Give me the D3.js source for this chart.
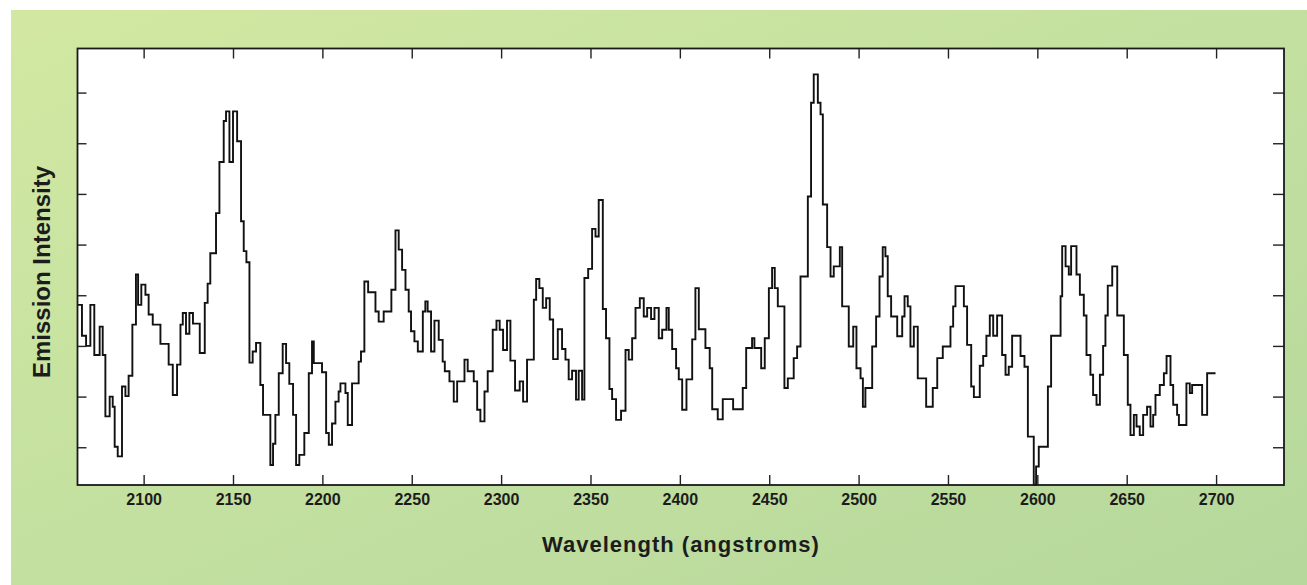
<!DOCTYPE html>
<html>
<head>
<meta charset="utf-8">
<script src="https://cdn.jsdelivr.net/npm/d3@7"></script>
<style>
  body { margin: 0; background: #fff; }
  svg { display: block; }
  text { font-family: "Liberation Sans", Arial, sans-serif; fill: #1c1c1c; }
</style>
</head>
<body>
<svg id="chart" width="1307" height="585"></svg>
<script>
// step start wavelength (angstroms) and level (arbitrary units, 10 per y tick)
let wavelength = [
  2063.1, 2065.5, 2067.8, 2070.2, 2072.4, 2075.4, 2077.1, 2078.6, 2081.0, 2082.7,
  2083.8, 2085.5, 2087.9, 2089.8, 2091.6, 2093.7, 2095.7, 2096.9, 2098.7, 2101.0,
  2102.8, 2105.1, 2109.4, 2114.0, 2116.3, 2118.7, 2120.6, 2121.9, 2123.7, 2125.6,
  2127.6, 2131.4, 2134.2, 2135.8, 2137.3, 2140.5, 2142.4, 2144.8, 2146.1, 2148.0,
  2150.0, 2152.3, 2154.5, 2156.0, 2157.5, 2159.2, 2161.0, 2162.9, 2165.3, 2166.8,
  2170.9, 2172.4, 2173.7, 2175.6, 2177.8, 2179.7, 2181.5, 2183.6, 2185.3, 2187.1,
  2189.9, 2192.4, 2194.2, 2195.2, 2199.8, 2202.1, 2203.6, 2205.4, 2207.3, 2209.1,
  2210.1, 2212.9, 2214.2, 2216.6, 2220.3, 2221.6, 2223.5, 2225.6, 2229.7, 2231.5,
  2234.3, 2238.6, 2240.9, 2242.7, 2244.6, 2246.5, 2248.3, 2249.6, 2251.5, 2253.4,
  2256.2, 2257.6, 2258.9, 2260.8, 2262.7, 2265.1, 2267.3, 2268.5, 2271.1, 2273.5,
  2275.4, 2279.5, 2281.3, 2284.7, 2286.6, 2288.4, 2290.7, 2292.5, 2295.3, 2297.4,
  2299.2, 2301.1, 2303.3, 2305.2, 2307.8, 2310.4, 2312.3, 2314.5, 2318.3, 2319.6,
  2321.4, 2323.3, 2325.2, 2327.2, 2329.1, 2331.7, 2334.1, 2336.0, 2337.8, 2339.7,
  2341.9, 2343.4, 2345.3, 2346.6, 2348.7, 2350.9, 2352.8, 2354.6, 2356.9, 2358.7,
  2360.6, 2362.1, 2364.3, 2367.1, 2369.6, 2371.4, 2373.3, 2375.2, 2377.6, 2379.8,
  2381.7, 2383.9, 2385.8, 2388.2, 2390.1, 2392.5, 2393.8, 2395.7, 2397.9, 2399.4,
  2401.3, 2403.7, 2406.9, 2408.7, 2410.6, 2414.3, 2416.7, 2418.1, 2421.2, 2424.0,
  2429.8, 2435.2, 2437.1, 2440.4, 2441.7, 2445.5, 2447.5, 2449.8, 2451.6, 2453.1,
  2454.8, 2458.5, 2460.4, 2463.7, 2465.6, 2467.5, 2471.6, 2473.4, 2474.9, 2477.2,
  2478.7, 2480.0, 2482.4, 2484.3, 2486.1, 2489.5, 2490.8, 2494.5, 2497.0, 2498.8,
  2501.1, 2502.4, 2503.8, 2507.6, 2509.8, 2511.7, 2513.5, 2515.0, 2516.3, 2518.2,
  2521.6, 2524.4, 2525.7, 2527.5, 2529.0, 2530.9, 2533.1, 2537.8, 2541.5, 2544.0,
  2547.1, 2551.4, 2552.9, 2554.2, 2558.9, 2560.7, 2563.0, 2564.5, 2567.8, 2569.7,
  2571.5, 2573.4, 2575.3, 2577.5, 2580.3, 2582.2, 2584.0, 2585.9, 2590.6, 2592.8,
  2594.7, 2598.0, 2599.3, 2600.8, 2605.9, 2607.7, 2613.0, 2613.9, 2615.8, 2617.6,
  2618.9, 2621.9, 2623.8, 2626.0, 2627.5, 2629.7, 2631.2, 2633.1, 2635.0, 2636.8,
  2638.1, 2639.4, 2641.9, 2644.7, 2648.4, 2650.6, 2652.1, 2654.0, 2655.5, 2657.3,
  2659.2, 2661.4, 2663.3, 2664.8, 2666.1, 2668.5, 2670.8, 2672.3, 2674.5, 2676.0,
  2678.2, 2679.2, 2683.4, 2685.3, 2686.6, 2692.2, 2695.0, 2699.7
];

let intensity = [
  38.1, 32.0, 30.0, 38.1, 28.2, 33.8, 28.2, 16.1, 20.0, 18.0,
  10.1, 8.2, 22.0, 20.1, 24.1, 34.2, 44.1, 38.1, 42.1, 40.1,
  36.2, 34.2, 30.4, 26.3, 20.3, 26.3, 34.2, 36.5, 32.4, 36.5,
  34.4, 28.6, 38.5, 42.3, 48.3, 56.2, 66.3, 74.4, 76.3, 66.3,
  76.3, 70.4, 54.6, 48.7, 46.5, 26.7, 28.9, 30.6, 22.3, 16.4,
  6.5, 10.7, 16.4, 24.6, 30.4, 26.6, 22.5, 16.4, 6.5, 8.5,
  12.8, 24.6, 30.9, 26.6, 24.8, 12.8, 10.5, 14.7, 19.0, 21.0,
  22.6, 20.7, 14.4, 22.6, 26.9, 28.9, 42.7, 40.6, 36.8, 34.8,
  36.8, 41.1, 52.8, 49.0, 45.0, 41.1, 36.8, 32.9, 30.9, 28.9,
  36.8, 38.8, 36.8, 28.9, 35.0, 31.2, 26.9, 25.0, 23.0, 19.0,
  23.0, 27.3, 25.0, 23.0, 17.4, 15.1, 21.0, 25.0, 33.2, 35.0,
  33.2, 29.2, 35.0, 27.1, 21.2, 23.0, 19.0, 27.3, 39.1, 43.2,
  41.4, 37.5, 39.4, 35.2, 27.4, 33.3, 29.4, 27.3, 23.4, 25.1,
  19.4, 25.1, 19.4, 43.4, 45.2, 53.1, 51.6, 58.8, 37.3, 31.5,
  21.5, 19.5, 15.4, 17.2, 29.2, 27.3, 31.5, 37.5, 39.4, 35.8,
  37.5, 35.3, 37.5, 31.5, 33.2, 37.5, 33.2, 29.4, 25.6, 23.4,
  17.4, 23.4, 31.3, 41.4, 33.3, 29.6, 25.6, 17.5, 15.5, 19.5,
  17.5, 21.7, 29.6, 31.5, 29.6, 25.6, 31.5, 41.4, 45.4, 41.4,
  37.8, 21.7, 23.6, 27.6, 29.9, 43.7, 59.5, 78.0, 83.6, 78.0,
  75.7, 57.9, 49.5, 43.7, 45.7, 49.5, 37.8, 29.9, 33.8, 25.6,
  23.6, 18.0, 21.7, 29.9, 35.8, 43.7, 49.5, 47.7, 39.8, 35.8,
  31.9, 35.8, 39.8, 37.8, 29.9, 33.8, 23.6, 18.0, 21.7, 27.6,
  29.9, 33.8, 37.8, 41.8, 37.8, 30.2, 22.0, 19.9, 26.1, 28.0,
  32.0, 36.0, 32.0, 36.0, 28.2, 24.3, 25.9, 32.0, 28.0, 25.9,
  12.1, 2.6, 6.2, 10.1, 22.0, 32.0, 39.8, 49.7, 45.7, 44.1,
  49.7, 44.1, 40.1, 36.0, 28.2, 24.3, 20.3, 18.4, 24.3, 30.0,
  36.0, 41.9, 45.7, 36.0, 28.2, 18.4, 12.4, 16.4, 14.1, 12.4,
  16.4, 18.0, 14.1, 16.4, 20.3, 22.3, 24.6, 28.0, 22.3, 18.4,
  16.4, 14.4, 22.6, 20.7, 22.3, 16.4, 24.6, 24.6
];

let xTickValues = [2100, 2150, 2200, 2250, 2300, 2350, 2400, 2450, 2500, 2550, 2600, 2650, 2700];
let yTickValues = [10, 20, 30, 40, 50, 60, 70, 80];

let xTitle = 'Wavelength (angstroms)';
let yTitle = 'Emission Intensity';

let plot = { left: 77.5, right: 1284, top: 48.5, bottom: 485 };

let svg = d3.select('#chart');

// green panel behind the chart
let defs = svg.append('defs');
let grad = defs.append('linearGradient')
  .attr('id', 'panel')
  .attr('x1', '0%').attr('y1', '0%')
  .attr('x2', '100%').attr('y2', '100%');
grad.append('stop').attr('offset', '0%').attr('stop-color', '#d2e8a2');
grad.append('stop').attr('offset', '50%').attr('stop-color', '#c3e0a0');
grad.append('stop').attr('offset', '100%').attr('stop-color', '#b6d89c');

svg.append('rect')
  .attr('x', 11).attr('y', 10)
  .attr('width', 1296).attr('height', 575)
  .attr('fill', 'url(#panel)');

svg.append('rect')
  .attr('x', plot.left).attr('y', plot.top)
  .attr('width', plot.right - plot.left)
  .attr('height', plot.bottom - plot.top)
  .attr('fill', '#ffffff');

let x = d3.scaleLinear().domain([2063, 2738]).range([plot.left, plot.right]);
let y = d3.scaleLinear().domain([2.55, 88.7]).range([plot.bottom, plot.top]);

let data = wavelength.map((w, i) => ({ w: w, v: intensity[i] }));

let line = d3.line()
  .x((d) => x(d.w))
  .y((d) => y(d.v))
  .curve(d3.curveStepAfter);

svg.append('path')
  .datum(data)
  .attr('d', line)
  .attr('fill', 'none')
  .attr('stroke', '#111')
  .attr('stroke-width', 1.9)
  .attr('stroke-linejoin', 'miter');

// inward ticks on all four sides
let bottomAxis = svg.append('g')
  .attr('transform', `translate(0,${plot.bottom})`)
  .call(d3.axisBottom(x).tickValues(xTickValues).tickSize(-10).tickPadding(9).tickFormat(d3.format('d')));

let topAxis = svg.append('g')
  .attr('transform', `translate(0,${plot.top})`)
  .call(d3.axisTop(x).tickValues(xTickValues).tickSize(-10).tickFormat(''));

let leftAxis = svg.append('g')
  .attr('transform', `translate(${plot.left},0)`)
  .call(d3.axisLeft(y).tickValues(yTickValues).tickSize(-9).tickFormat(''));

let rightAxis = svg.append('g')
  .attr('transform', `translate(${plot.right},0)`)
  .call(d3.axisRight(y).tickValues(yTickValues).tickSize(-11).tickFormat(''));

[bottomAxis, topAxis, leftAxis, rightAxis].forEach((g) => {
  g.select('.domain').remove();
  g.selectAll('.tick line').attr('stroke', '#222').attr('stroke-width', 1.4);
});

bottomAxis.selectAll('.tick text')
  .attr('font-size', 16)
  .attr('font-weight', 'bold')
  .style('font-family', '"Liberation Sans", Arial, sans-serif')
  .attr('fill', '#1c1c1c');

svg.append('rect')
  .attr('x', plot.left).attr('y', plot.top)
  .attr('width', plot.right - plot.left)
  .attr('height', plot.bottom - plot.top)
  .attr('fill', 'none')
  .attr('stroke', '#1a1a1a')
  .attr('stroke-width', 1.8);

svg.append('text')
  .attr('x', 681)
  .attr('y', 552)
  .attr('text-anchor', 'middle')
  .attr('font-size', 22)
  .attr('font-weight', 'bold')
  .attr('letter-spacing', 1)
  .text(xTitle);

svg.append('text')
  .attr('transform', 'translate(50,272) rotate(-90)')
  .attr('text-anchor', 'middle')
  .attr('font-size', 24)
  .attr('font-weight', 'bold')
  .text(yTitle);
</script>
</body>
</html>
